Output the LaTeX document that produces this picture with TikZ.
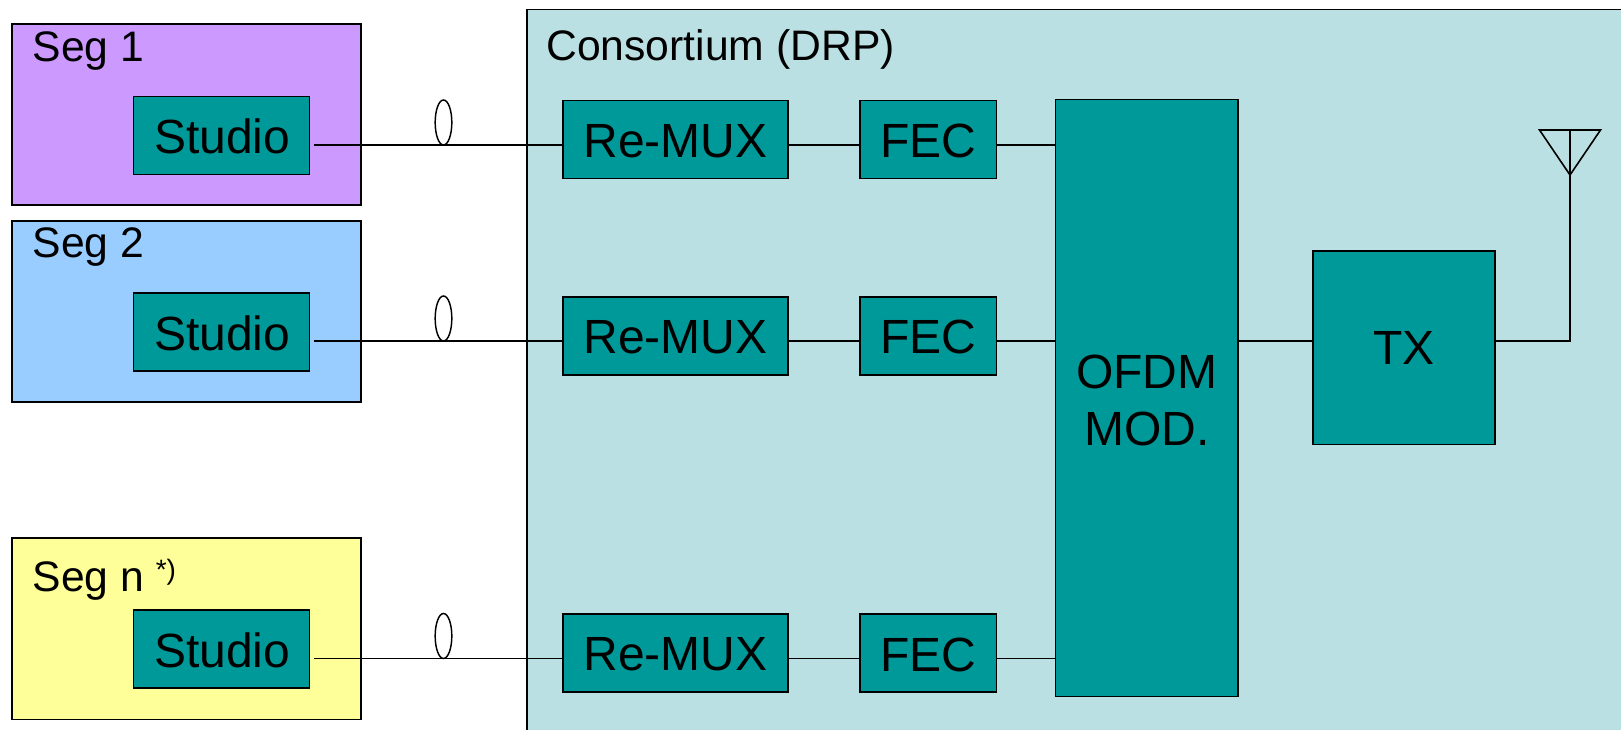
\documentclass[tikz,border=0pt]{standalone}
\usepackage{fontspec}
\setmainfont{Liberation Sans}
\usetikzlibrary{shapes.geometric}
\definecolor{segA}{HTML}{CC99FF}
\definecolor{segB}{HTML}{99CCFF}
\definecolor{segC}{HTML}{FFFF99}
\definecolor{tealbox}{HTML}{009999}
\definecolor{consort}{HTML}{BBE0E3}
\newcommand{\lowered}[2][0.8pt]{\raisebox{-#1}[\height][0pt]{#2}}
\tikzset{
  wire/.style={draw=black,line width=1.2pt},
  areabox/.style={draw=black,line width=1.25pt,rectangle,inner sep=0pt,outer sep=0pt},
  block/.style={areabox,fill=tealbox,font=\fontsize{36}{42.8}\selectfont,align=center},
  studiobox/.style={block,minimum width=132pt,minimum height=58.5pt},
  muxbox/.style={block,minimum width=168.75pt,minimum height=58.5pt},
  fecbox/.style={block,minimum width=102.5pt,minimum height=58.5pt},
  seglabel/.style={anchor=base west,inner sep=0pt,font=\fontsize{32}{38}\selectfont},
  ring/.style={draw=black,line width=1.1pt,ellipse,inner sep=0pt,outer sep=0pt,minimum width=12.5pt,minimum height=33.75pt}
}
\begin{document}
\begin{tikzpicture}[x=0.75pt,y=-0.75pt]
\useasboundingbox (0,0) rectangle (1621,730);
\clip (0,0) rectangle (1621,730);
% background areas
\node[areabox,fill=segA,minimum width=261.4pt,minimum height=136pt] (seg1) at (186.5,114.5) {};
\node[areabox,fill=segB,minimum width=261.4pt,minimum height=136pt] (seg2) at (186.5,311.5) {};
\node[areabox,fill=segC,minimum width=261.4pt,minimum height=136pt] (segn) at (186.5,628.7) {};
\node[areabox,fill=consort,minimum width=830pt,minimum height=560pt,anchor=north west] (cons) at (527,9.5) {};
% labels
\node[seglabel] (l1) at (32.5,62) {Seg 1};
\node[seglabel] (l2) at (32.5,258) {Seg 2};
\node[seglabel] (ln) at (32.5,591) {Seg n};
\node[anchor=base west,inner sep=0pt,font=\fontsize{21}{25}\selectfont] (lnstar) at (155.5,580) {*)};
\node[seglabel] (lc) at (546,61) {Consortium (DRP)};
% blocks
\node[studiobox] (s1) at (221.5,135.5) {\hspace{1pt}\lowered{Studio}};
\node[studiobox] (s2) at (221.5,332) {\hspace{1pt}\lowered{Studio}};
\node[studiobox] (s3) at (221.5,649.2) {\hspace{1pt}\lowered{Studio}};
\node[muxbox] (m1) at (675.5,139.5) {\lowered{Re-MUX}};
\node[muxbox] (m2) at (675.5,336) {\lowered{Re-MUX}};
\node[muxbox] (m3) at (675.5,653.2) {\lowered{Re-MUX}};
\node[fecbox] (f1) at (928,139.5) {\lowered{FEC}};
\node[fecbox] (f2) at (928,336) {\lowered{FEC}};
\node[fecbox] (f3) at (928,653.2) {\lowered{FEC}};
\node[block,minimum width=136.9pt,minimum height=447.5pt] (ofdm) at (1146.75,398) {\lowered[1.5pt]{OFDM}\\\lowered[1.5pt]{MOD.}};
\node[block,minimum width=136.5pt,minimum height=145pt] (tx) at (1404,348) {TX};
% line levels
\coordinate (o1) at (314,145);
\coordinate (o2) at (314,341);
\coordinate (o3) at (314,658.5);
\coordinate (apex) at (1570,175);
\coordinate (antl) at (1539.5,130);
\coordinate (antr) at (1600.5,130);
\coordinate (antm) at (1570,130);
% connectors
\foreach \i in {1,2,3}{
  \draw[wire] (o\i) -- (m\i.west |- o\i);
  \draw[wire] (m\i.east |- o\i) -- (f\i.west |- o\i);
  \draw[wire] (f\i.east |- o\i) -- (ofdm.west |- o\i);
}
\draw[wire] (ofdm.east |- o2) -- (tx.west |- o2);
\draw[wire] (tx.east |- o2) -| (apex);
\draw[wire,line join=miter] (antl) -- (antr) -- (apex) -- cycle;
\draw[wire] (antm) -- (apex);
% cable rings
\node[ring] (r1) at (443.5,122.5) {};
\node[ring] (r2) at (443.5,318.5) {};
\node[ring] (r3) at (443.5,636) {};
\end{tikzpicture}
\end{document}
